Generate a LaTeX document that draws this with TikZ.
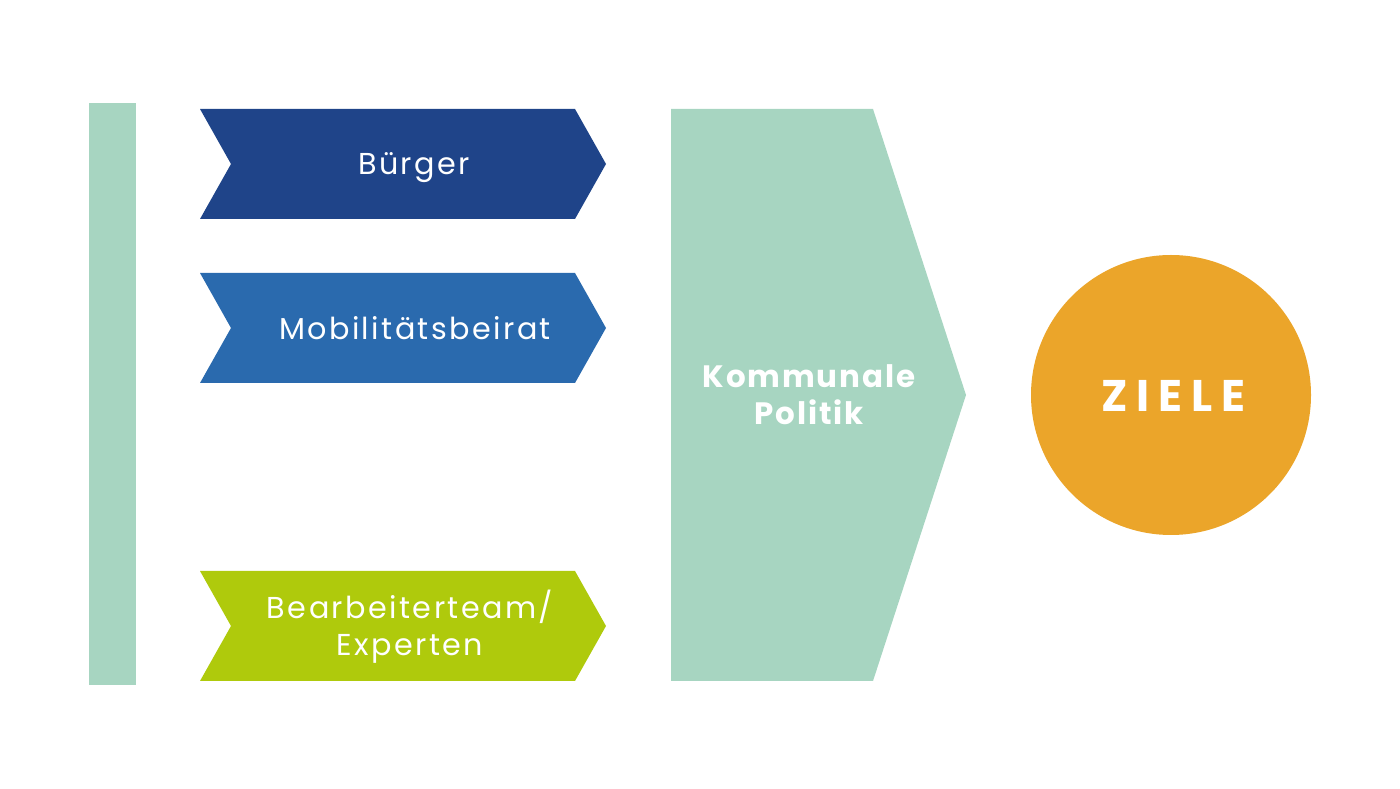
\documentclass[tikz,border=0pt]{standalone}
\usepackage{fontspec}
\setmainfont{Poppins}[LetterSpace=8]
\newfontfamily\headfont{Poppins}[LetterSpace=6,BoldFont={* Bold}]
\definecolor{paleGreen}{HTML}{A7D5C1}
\definecolor{darkBlue}{HTML}{1F4489}
\definecolor{midBlue}{HTML}{2A6AAE}
\definecolor{limeGreen}{HTML}{AFCA0C}
\definecolor{goalOrange}{HTML}{EBA52A}
\tikzset{
    label text/.style={text=white, align=center, font=\fontsize{8.6}{10.6}\selectfont},
    head text/.style={text=white, align=center, font=\headfont\bfseries\fontsize{8.8}{10.6}\selectfont},
}
\begin{document}
\begin{tikzpicture}
    \useasboundingbox (0,0) rectangle (14,7.88);

    \fill[paleGreen] (0.89,1.03) rectangle (1.36,6.85);

    \fill[darkBlue] (2.00,6.79) -- (5.75,6.79) -- (6.06,6.24) -- (5.75,5.69) -- (2.00,5.69) -- (2.31,6.24) -- cycle;
    \fill[midBlue] (2.00,5.15) -- (5.75,5.15) -- (6.06,4.60) -- (5.75,4.05) -- (2.00,4.05) -- (2.31,4.60) -- cycle;
    \fill[limeGreen] (2.00,2.17) -- (5.75,2.17) -- (6.06,1.62) -- (5.75,1.07) -- (2.00,1.07) -- (2.31,1.62) -- cycle;

    \fill[paleGreen] (6.71,6.79) -- (8.73,6.79) -- (9.66,3.93) -- (8.73,1.07) -- (6.71,1.07) -- cycle;
    \fill[goalOrange] (11.71,3.93) circle (1.40);

    \node[label text] (buerger) at (4.14,6.20) {Bürger};
    \node[label text] (beirat) at (4.15,4.60) {Mobilitätsbeirat};
    \node[label text] (experten) at (4.10,1.61) {Bearbeiterteam/\\Experten};
    \node[head text] (politik) at (8.09,3.93) {Kommunale\\Politik};
    \node[head text, font=\headfont\bfseries\addfontfeatures{LetterSpace=20}\fontsize{12.6}{14}\selectfont] (ziele) at (11.73,3.92) {ZIELE};
\end{tikzpicture}
\end{document}
